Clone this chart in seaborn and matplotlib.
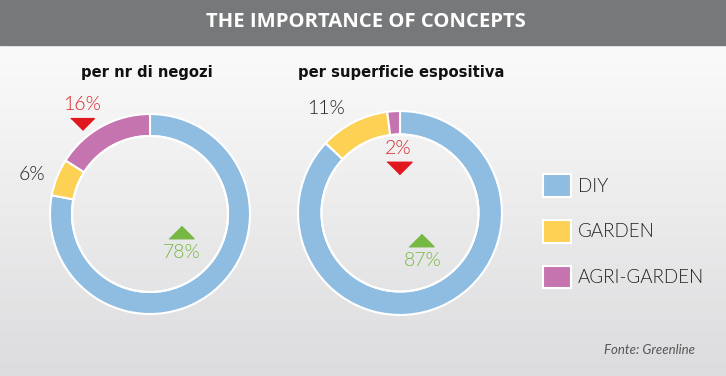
import numpy as np
import matplotlib
matplotlib.use("Agg")
import matplotlib.pyplot as plt
from matplotlib.colors import LinearSegmentedColormap
from matplotlib.patches import Rectangle, Circle
import seaborn as sns

# data
categories = ["DIY", "GARDEN", "AGRI-GARDEN"]
share_by_stores = [78, 6, 16]
share_by_area = [87, 11, 2]
chart_titles = ["per nr di negozi", "per superficie espositiva"]
colors = ["#8fbde2", "#fdd153", "#c674b0"]

sns.set_theme(style="white")
plt.rcParams["font.family"] = ["Lato", "DejaVu Sans"]

W, H = 726, 376
fig = plt.figure(figsize=(W / 100, H / 100), dpi=100)

# background gradient
bg = fig.add_axes([0, 0, 1, 1], zorder=-10)
grad = np.linspace(0, 1, 256).reshape(-1, 1)
bg.imshow(grad, aspect="auto", extent=[0, 1, 0, 1],
          cmap=LinearSegmentedColormap.from_list("bg", ["#ffffff", "#dcdcde"]))
bg.axis("off")

# overlay in pixel coords for annotations
ov = fig.add_axes([0, 0, 1, 1], zorder=5)
ov.set_xlim(0, W)
ov.set_ylim(H, 0)
ov.axis("off")
ov.patch.set_alpha(0)

ov.add_patch(Rectangle((0, 0), W, 45, color="#77787a", zorder=0))
ov.text(366, 22, "THE IMPORTANCE OF CONCEPTS", color="white", fontsize=14.6,
        fontweight="bold", ha="center", va="center",
        family=["Open Sans", "DejaVu Sans"])


def donut(cx, cy, r, values, width):
    ax = fig.add_axes([(cx - r) / W, 1 - (cy + r) / H, 2 * r / W, 2 * r / H])
    wedges, _ = ax.pie(values, colors=colors, startangle=90, counterclock=False,
                       radius=1, wedgeprops=dict(width=width, edgecolor="white",
                                                 linewidth=1.5))
    ax.add_patch(Circle((0, 0), 1 - width, fill=False, ec="white", lw=1.5))
    ax.set_xlim(-1.01, 1.01)
    ax.set_ylim(-1.01, 1.01)
    ax.axis("off")
    return wedges


wedges = donut(150, 214, 101, share_by_stores, 0.22)
donut(400, 213, 103, share_by_area, 0.23)

sub_font = ["DejaVu Sans", "Lato"]
for x, t in zip([147, 401], chart_titles):
    ov.text(x, 73, t, fontsize=11.8, fontweight="bold", ha="center",
            va="center", family=sub_font, fontstretch="condensed",
            color="#111111")

red, green, dark = "#d8262a", "#76b843", "#222222"
tri_down = [(-1, 0.5), (1, 0.5), (0, -0.5)]
tri_up = [(-1, -0.5), (1, -0.5), (0, 0.5)]


def pct(x, y, v, c):
    ov.text(x, y, f"{v}%", color=c, fontsize=14, ha="center", va="center",
            fontweight=300)


# left donut labels
pct(82, 104, share_by_stores[2], red)
ov.plot(82, 124, marker=tri_down, markersize=17, color="#e0181e", ls="none")
pct(32, 175, share_by_stores[1], dark)
pct(182, 253, share_by_stores[0], green)
ov.plot(181, 232, marker=tri_up, markersize=18, color=green, ls="none")

# right donut labels
pct(326, 109, share_by_area[1], dark)
pct(398, 149, share_by_area[2], red)
ov.plot(399, 168, marker=tri_down, markersize=18, color="#e0181e", ls="none")
pct(423, 260, share_by_area[0], green)
ov.plot(421, 240, marker=tri_up, markersize=18, color=green, ls="none")

leg = fig.legend(wedges, categories, loc="upper left",
                 bbox_to_anchor=(543 / W, 1 - 174 / H), frameon=False,
                 fontsize=13.5, handlelength=1.5, handleheight=1.5,
                 labelspacing=1.22, handletextpad=0.35, borderpad=0,
                 borderaxespad=0)
for t in leg.get_texts():
    t.set_color("#222222")
    t.set_fontweight(300)

ov.text(649, 350, "Fonte: Greenline", fontsize=9.5, style="italic",
        color="#555555", ha="center", va="center", family=["Lato", "DejaVu Sans"])

fig.savefig("out.png", dpi=100)
